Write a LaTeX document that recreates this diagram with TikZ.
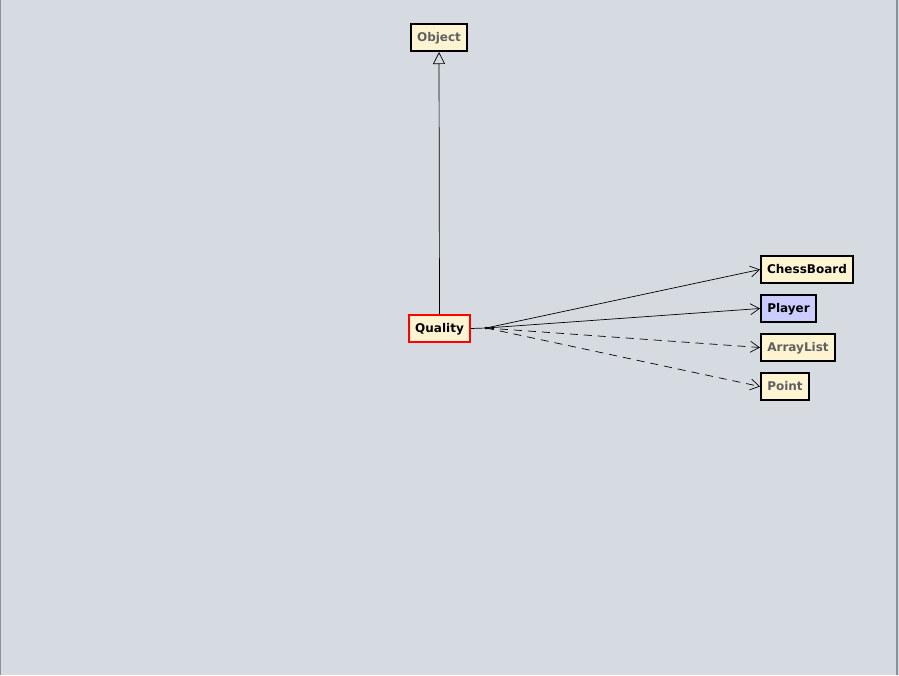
\documentclass[tikz,border=0pt]{standalone}
\usepackage{fontspec}
\setmainfont{DejaVu Sans}
\usetikzlibrary{arrows.meta}
\definecolor{canvas}{HTML}{D6DAE1}
\definecolor{classfill}{HTML}{FFF4D2}
\definecolor{iface}{HTML}{CCCCFF}
\definecolor{libtext}{HTML}{606060}
\definecolor{frameline}{HTML}{8A909A}
\begin{document}
\begin{tikzpicture}[x=1pt,y=-1pt,
  classbox/.style={draw=black, line width=2pt, fill=classfill, minimum height=27pt,
    inner xsep=0pt, inner ysep=0pt, text height=8.5pt, text depth=0.5pt,
    font=\fontsize{12}{13}\selectfont\bfseries},
  libclass/.style={classbox, text=libtext},
  usesline/.style={-{Straight Barb[length=9pt,width=11pt]}, line width=0.7pt},
  inherits/.style={-{Triangle[open,length=12pt,width=12pt]}, line width=0.7pt}]
  % canvas
  \fill[canvas] (0,0) rectangle (899,675);
  \useasboundingbox (0,0) rectangle (899,675);
  \draw[frameline, line width=1pt] (0.5,0) -- (0.5,675);
  \draw[frameline, line width=2pt] (897,0) -- (897,675);

  % classes
  \node[libclass, minimum width=56pt] (object) at (439,37.5) {Object};
  \node[classbox, draw=red, minimum width=61pt] (quality) at (439.5,328.5) {Quality};
  \node[classbox, minimum width=92pt] (chessboard) at (807,269.5) {ChessBoard};
  \node[classbox, fill=iface, minimum width=55pt] (player) at (788.5,308.5) {Player};
  \node[libclass, minimum width=74pt] (arraylist) at (798,347.5) {ArrayList};
  \node[libclass, minimum width=48pt] (point) at (785,386.5) {Point};

  % inheritance
  \draw[inherits] (quality.north) -- (object.south);

  % dependencies from a common junction
  \coordinate (hub) at (486,328);
  \draw[line width=0.7pt] (quality.east) -- (hub);
  \fill (hub) circle (1.5pt);
  \draw[usesline] (hub) -- (chessboard.west);
  \draw[usesline] (hub) -- (player.west);
  \draw[usesline, dashed, dash pattern=on 8pt off 6pt] (hub) -- (arraylist.west);
  \draw[usesline, dashed, dash pattern=on 8pt off 6pt] (hub) -- (point.west);
\end{tikzpicture}
\end{document}
